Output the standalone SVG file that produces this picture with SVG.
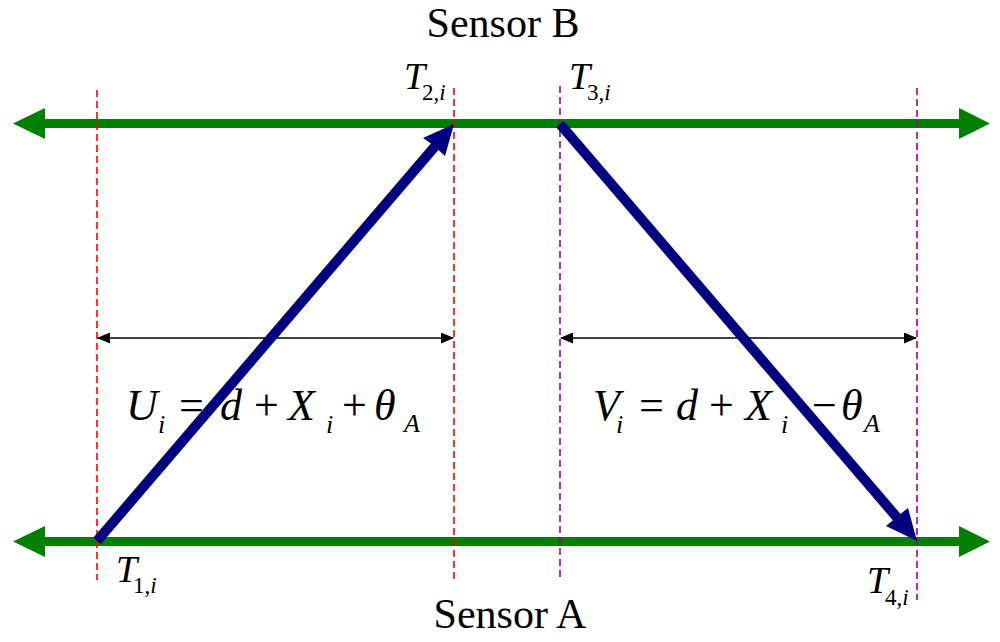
<svg xmlns="http://www.w3.org/2000/svg" width="1000" height="642" viewBox="0 0 1000 642">
<defs>
  <marker id="blkA" viewBox="0 0 13 11" refX="12" refY="5.5" markerWidth="13" markerHeight="11" markerUnits="userSpaceOnUse" orient="auto-start-reverse"><polygon points="0,0 13,5.5 0,11" fill="#000"/></marker>
</defs>
<rect width="1000" height="642" fill="#fff"/>
<g id="connectors">
  <g id="sensor-lines" stroke="#008000" stroke-width="9" fill="#008000">
    <line x1="40" y1="123.5" x2="964" y2="123.5"/>
    <polygon stroke="none" points="13,123.5 45,108 45,139"/>
    <polygon stroke="none" points="990,123.5 959,108 959,139"/>
    <line x1="40" y1="541.5" x2="964" y2="541.5"/>
    <polygon stroke="none" points="13,541.5 45,526 45,557"/>
    <polygon stroke="none" points="990,541.5 959,526 959,557"/>
  </g>
  <g id="dashed" stroke-width="1.6" stroke-dasharray="7,4" fill="none">
    <line stroke="#ff0000" x1="97" y1="90" x2="97" y2="580"/>
    <line stroke="#ff0000" x1="454" y1="88" x2="454" y2="580"/>
    <line stroke="#990099" x1="560" y1="86" x2="560" y2="580"/>
    <line stroke="#990099" x1="917" y1="88" x2="917" y2="600"/>
  </g>
  <g id="dims" stroke="#000" stroke-width="1.6" fill="none">
    <line x1="98" y1="338" x2="453" y2="338" marker-start="url(#blkA)" marker-end="url(#blkA)"/>
    <line x1="561" y1="338" x2="916" y2="338" marker-start="url(#blkA)" marker-end="url(#blkA)"/>
  </g>
</g>
<g id="eq-U">
  <text style="font-family:'Liberation Serif',serif !important" font-size="44" font-style="italic" fill="#000" y="420"><tspan x="126">U</tspan><tspan font-size="26" x="158" dy="13">i</tspan><tspan font-style="normal" x="179" dy="-13">=</tspan><tspan x="220">d</tspan><tspan font-style="normal" x="254">+</tspan><tspan x="288">X</tspan><tspan font-size="26" x="326" dy="13">i</tspan><tspan font-style="normal" x="342" dy="-13">+</tspan><tspan x="374">&#952;</tspan><tspan font-size="26" x="404" dy="12">A</tspan></text>
</g>
<g id="eq-V">
  <text style="font-family:'Liberation Serif',serif !important" font-size="44" font-style="italic" fill="#000" y="420"><tspan x="593">V</tspan><tspan font-size="26" x="616" dy="13">i</tspan><tspan font-style="normal" x="639" dy="-13">=</tspan><tspan x="676">d</tspan><tspan font-style="normal" x="709">+</tspan><tspan x="745">X</tspan><tspan font-size="26" x="781" dy="13">i</tspan><tspan font-style="normal" x="812" dy="-13">&#8722;</tspan><tspan x="841">&#952;</tspan><tspan font-size="26" x="864" dy="12">A</tspan></text>
</g>
<g id="blue-arrows" fill="#000080" stroke="#000080">
  <g id="arrow-up">
    <line stroke-width="10" x1="97" y1="541" x2="437" y2="144"/>
    <polygon stroke="none" points="454,124 423,138 433,145 445,156"/>
  </g>
  <g id="arrow-down">
    <line stroke-width="10" x1="560" y1="124" x2="900" y2="521"/>
    <polygon stroke="none" points="917,541 908,508 898,516 886,526"/>
  </g>
</g>
<g id="sensorB"><text style="font-family:'Liberation Serif',serif !important" font-size="42" fill="#000" x="503" y="37" text-anchor="middle">Sensor B</text></g>
<g id="sensorA"><text style="font-family:'Liberation Serif',serif !important" font-size="42" fill="#000" x="510" y="628" text-anchor="middle">Sensor A</text></g>
<g id="T1"><text style="font-family:'Liberation Serif',serif !important" font-size="38" font-style="italic" fill="#000" x="116" y="582">T<tspan font-size="23" font-style="normal" x="133" dy="11">1,<tspan font-style="italic">i</tspan></tspan></text></g>
<g id="T2"><text style="font-family:'Liberation Serif',serif !important" font-size="38" font-style="italic" fill="#000" x="404" y="89">T<tspan font-size="23" font-style="normal" x="422" dy="11">2,<tspan font-style="italic">i</tspan></tspan></text></g>
<g id="T3"><text style="font-family:'Liberation Serif',serif !important" font-size="38" font-style="italic" fill="#000" x="569" y="89">T<tspan font-size="23" font-style="normal" x="587" dy="11">3,<tspan font-style="italic">i</tspan></tspan></text></g>
<g id="T4"><text style="font-family:'Liberation Serif',serif !important" font-size="38" font-style="italic" fill="#000" x="867" y="593">T<tspan font-size="23" font-style="normal" x="885" dy="12">4,<tspan font-style="italic">i</tspan></tspan></text></g>
</svg>
